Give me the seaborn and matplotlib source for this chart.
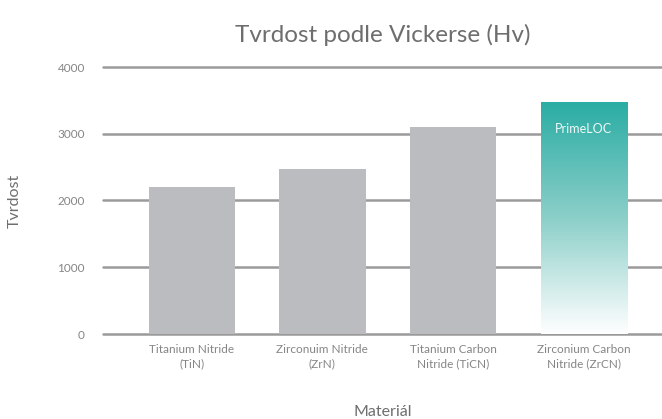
import numpy as np
import matplotlib
matplotlib.use('Agg')
import matplotlib.pyplot as plt
import seaborn as sns
from matplotlib.colors import LinearSegmentedColormap

materials = ['Titanium Nitride\n(TiN)', 'Zirconuim Nitride\n(ZrN)',
             'Titanium Carbon\nNitride (TiCN)', 'Zirconium Carbon\nNitride (ZrCN)']
hardness = [2200, 2470, 3100, 3470]
yticks = [0, 1000, 2000, 3000, 4000]
highlight = 'PrimeLOC'

sns.set_theme(style='white')
plt.rcParams['font.family'] = ['Lato', 'DejaVu Sans']

fig = plt.figure(figsize=(6.62, 4.19), dpi=100)
ax = fig.add_axes([103 / 662, 85 / 419, 559 / 662, 267 / 419])

sns.barplot(x=materials, y=hardness, color='#bbbcbf', width=0.66,
            saturation=1, linewidth=0, ax=ax, zorder=3)

# gradient fill for the last bar
bar = ax.patches[3]
bx, bw, bh = bar.get_x(), bar.get_width(), bar.get_height()
bar.set_facecolor('none')
cmap = LinearSegmentedColormap.from_list('teal', ['#ffffff', '#8ccfc9', '#2aada4'])
grad = np.linspace(0, 1, 256).reshape(-1, 1)
img = ax.imshow(grad, cmap=cmap, origin='lower', aspect='auto',
                extent=[bx, bx + bw, 0, bh], zorder=3)
img.set_clip_path(bar)
ax.text(bx + bw / 2, bh - 400, highlight, color='#eef8f7', ha='center',
        va='center', fontsize=9, zorder=4)

for t in yticks:
    ax.axhline(t, color='#9a9a9a', lw=1.8, zorder=1, clip_on=False)

ax.set_xlim(-0.68, 3.6)
ax.set_ylim(0, 4000)
ax.set_yticks(yticks)
sns.despine(ax=ax, left=True, bottom=True)
ax.tick_params(axis='y', length=0, pad=13, labelsize=8.5, labelcolor='#858585')
ax.tick_params(axis='x', length=0, pad=7, labelsize=8.5, labelcolor='#858585')
for lab in ax.get_xticklabels():
    lab.set_linespacing(1.35)

ax.set_title('Tvrdost podle Vickerse (Hv)', fontsize=17.5, color='#6e6e6e',
             pad=18)
ax.set_ylabel('Tvrdost', fontsize=11.5, color='#6e6e6e', labelpad=26)
ax.set_xlabel('Materiál', fontsize=11.5, color='#6e6e6e', labelpad=26)

fig.savefig('out.png', dpi=100)
